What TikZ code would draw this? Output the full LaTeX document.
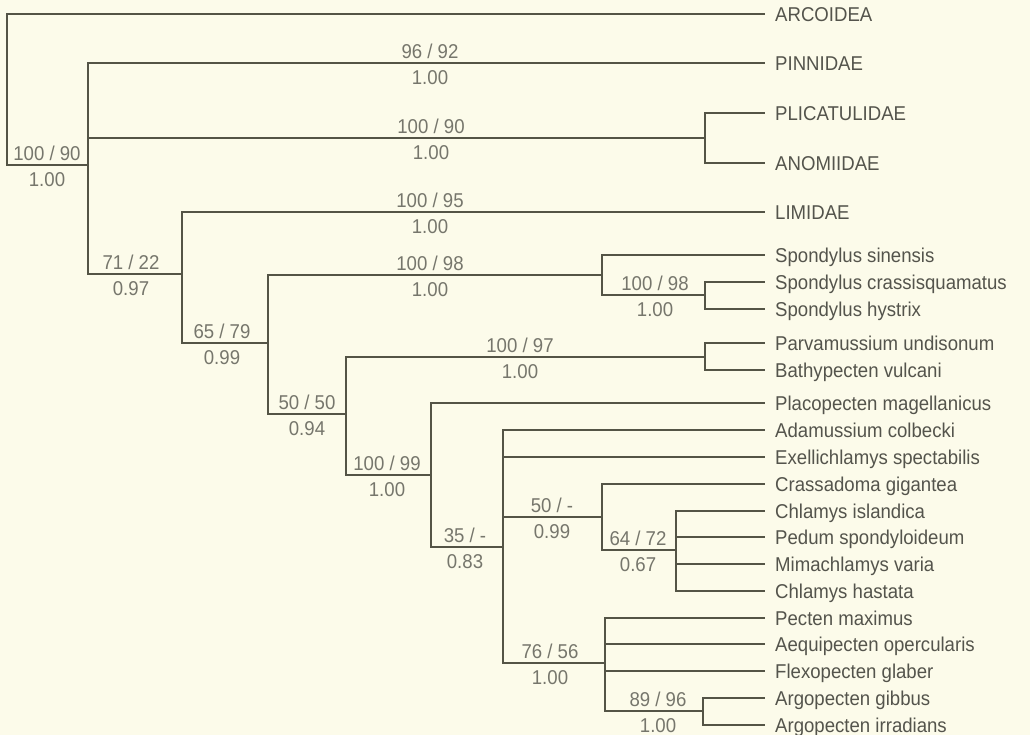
\documentclass[tikz,border=0pt]{standalone}
\usepackage{fontspec}
\setmainfont{Liberation Sans}
\newfontfamily\lblfont[FakeStretch=0.93]{Liberation Sans}
\definecolor{bgc}{RGB}{252,251,234}
\definecolor{linec}{RGB}{84,84,70}
\definecolor{taxc}{RGB}{84,84,76}
\definecolor{supc}{RGB}{118,118,108}
\newcommand\leafnode[3]{%
  \coordinate (l#1) at (764,#2);
  \node[taxon] (t#1) at (775,{#2+7.2}) {#3};}
\newcommand\supnode[5]{%
  \node[bsup] (#1a) at (#2,{#3-4.5}) {#4};
  \node[bsup] (#1b) at (#2,{#3+21.5}) {#5};}
\begin{document}
\begin{tikzpicture}[x=1pt,y=-1pt,
  br/.style={draw=linec,line width=1.4pt,line cap=rect,line join=miter},
  taxon/.style={anchor=base west,inner sep=0pt,text=taxc,font=\lblfont\fontsize{20}{22}\selectfont},
  bsup/.style={anchor=base,inner sep=0pt,text=supc,font=\lblfont\fontsize{20}{22}\selectfont}]
\fill[bgc] (0,0) rectangle (1030,735);
\useasboundingbox (0,0) rectangle (1030,735);

% leaves
\leafnode{Arc}{14}{ARCOIDEA}
\leafnode{Pin}{63}{PINNIDAE}
\leafnode{Pli}{113}{PLICATULIDAE}
\leafnode{Ano}{163}{ANOMIIDAE}
\leafnode{Lim}{212}{LIMIDAE}
\leafnode{Ssi}{255}{Spondylus sinensis}
\leafnode{Scr}{282}{Spondylus crassisquamatus}
\leafnode{Shy}{309}{Spondylus hystrix}
\leafnode{Pun}{343}{Parvamussium undisonum}
\leafnode{Bvu}{370}{Bathypecten vulcani}
\leafnode{Pma}{403}{Placopecten magellanicus}
\leafnode{Aco}{430}{Adamussium colbecki}
\leafnode{Esp}{457}{Exellichlamys spectabilis}
\leafnode{Cgi}{484}{Crassadoma gigantea}
\leafnode{Cis}{511}{Chlamys islandica}
\leafnode{Psp}{537}{Pedum spondyloideum}
\leafnode{Mva}{564}{Mimachlamys varia}
\leafnode{Cha}{591}{Chlamys hastata}
\leafnode{Pmx}{618}{Pecten maximus}
\leafnode{Aop}{644}{Aequipecten opercularis}
\leafnode{Fgl}{671}{Flexopecten glaber}
\leafnode{Agi}{698}{Argopecten gibbus}
\leafnode{Air}{725}{Argopecten irradians}

% internal nodes
\coordinate (R) at (7,165);
\coordinate (A) at (88,165);
\coordinate (P) at (705,138);
\coordinate (B) at (182,274);
\coordinate (C) at (268,343);
\coordinate (S) at (602,275);
\coordinate (S2) at (705,295);
\coordinate (D) at (346,414);
\coordinate (Pv) at (705,357);
\coordinate (E) at (431,475);
\coordinate (F) at (503,547);
\coordinate (G) at (602,517);
\coordinate (H) at (676,550);
\coordinate (I) at (605,663);
\coordinate (J) at (703,711);

% branches
\draw[br] (R) |- (lArc);
\draw[br] (R) |- (A);
\draw[br] (A) |- (lPin);
\draw[br] (A) |- (P);
\draw[br] (A) |- (B);
\draw[br] (P) |- (lPli);
\draw[br] (P) |- (lAno);
\draw[br] (B) |- (lLim);
\draw[br] (B) |- (C);
\draw[br] (C) |- (S);
\draw[br] (C) |- (D);
\draw[br] (S) |- (lSsi);
\draw[br] (S) |- (S2);
\draw[br] (S2) |- (lScr);
\draw[br] (S2) |- (lShy);
\draw[br] (D) |- (Pv);
\draw[br] (D) |- (E);
\draw[br] (Pv) |- (lPun);
\draw[br] (Pv) |- (lBvu);
\draw[br] (E) |- (lPma);
\draw[br] (E) |- (F);
\draw[br] (F) |- (lAco);
\draw[br] (F) |- (lEsp);
\draw[br] (F) |- (G);
\draw[br] (F) |- (I);
\draw[br] (G) |- (lCgi);
\draw[br] (G) |- (H);
\draw[br] (H) |- (lCis);
\draw[br] (H) |- (lPsp);
\draw[br] (H) |- (lMva);
\draw[br] (H) |- (lCha);
\draw[br] (I) |- (lPmx);
\draw[br] (I) |- (lAop);
\draw[br] (I) |- (lFgl);
\draw[br] (I) |- (J);
\draw[br] (J) |- (lAgi);
\draw[br] (J) |- (lAir);

% support values
\supnode{sR}{47}{165}{100 / 90}{1.00}
\supnode{sPin}{430}{63}{96 / 92}{1.00}
\supnode{sP}{431}{138}{100 / 90}{1.00}
\supnode{sLim}{430}{212}{100 / 95}{1.00}
\supnode{sB}{131}{274}{71 / 22}{0.97}
\supnode{sS}{430}{275}{100 / 98}{1.00}
\supnode{sC}{222}{343}{65 / 79}{0.99}
\supnode{sS2}{655}{295}{100 / 98}{1.00}
\supnode{sPv}{520}{357}{100 / 97}{1.00}
\supnode{sD}{307}{414}{50 / 50}{0.94}
\supnode{sE}{387}{475}{100 / 99}{1.00}
\supnode{sF}{465}{547}{35 / -}{0.83}
\supnode{sG}{552}{517}{50 / -}{0.99}
\supnode{sH}{638}{550}{64 / 72}{0.67}
\supnode{sI}{550}{663}{76 / 56}{1.00}
\supnode{sJ}{658}{711}{89 / 96}{1.00}
\end{tikzpicture}
\end{document}
